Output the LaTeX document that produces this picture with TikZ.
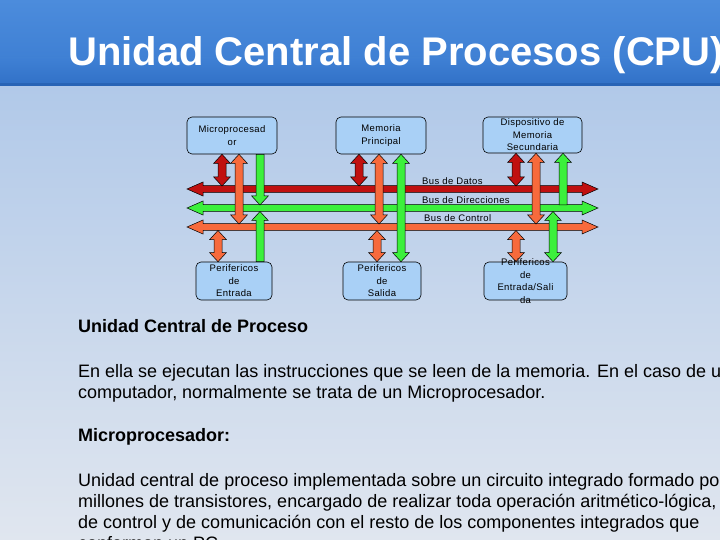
\documentclass[tikz,border=0pt]{standalone}
\usepackage{fontspec}
\setmainfont{Liberation Sans}
\newfontfamily\boxfont[LetterSpace=4]{Liberation Sans}
\usetikzlibrary{calc,positioning}

\definecolor{barhi}{HTML}{4C8CDC}
\definecolor{barmid}{HTML}{3F80D4}
\definecolor{barlo}{HTML}{3272C8}
\definecolor{barline}{HTML}{2864B6}
\definecolor{bgtop}{HTML}{B1C9E9}
\definecolor{bgbot}{HTML}{E0E6EF}
\definecolor{boxblue}{HTML}{A9D0F6}
\definecolor{datred}{HTML}{C01010}
\definecolor{dirgreen}{HTML}{3CF03C}
\definecolor{ctrlorange}{HTML}{F76A3C}

\tikzset{
  bus/.style={/utils/exec={\def\headlen{16pt}\def\headwid{7pt}\def\shaftwid{3.3pt}}},
  link/.style={/utils/exec={\def\headlen{9pt}\def\headwid{8.3pt}\def\shaftwid{4pt}}},
  both/.style={draw=black, line width=0.5pt, fill=#1, line join=miter,
    to path={let \p1=(\tikztostart), \p2=(\tikztotarget),
      \n1={veclen(\x2-\x1,\y2-\y1)}, \n2={(\x2-\x1)/\n1}, \n3={(\y2-\y1)/\n1} in
      (\p1) -- ++({\headlen*(\n2)-\headwid*(\n3)},{\headlen*(\n3)+\headwid*(\n2)})
      -- ++({(\headwid-\shaftwid)*(\n3)},{-(\headwid-\shaftwid)*(\n2)})
      -- ++({(\n1-2*\headlen)*(\n2)},{(\n1-2*\headlen)*(\n3)})
      -- ++({-(\headwid-\shaftwid)*(\n3)},{(\headwid-\shaftwid)*(\n2)})
      -- (\p2)
      -- ++({-\headlen*(\n2)+\headwid*(\n3)},{-\headlen*(\n3)-\headwid*(\n2)})
      -- ++({-(\headwid-\shaftwid)*(\n3)},{(\headwid-\shaftwid)*(\n2)})
      -- ++({-(\n1-2*\headlen)*(\n2)},{-(\n1-2*\headlen)*(\n3)})
      -- ++({(\headwid-\shaftwid)*(\n3)},{-(\headwid-\shaftwid)*(\n2)})
      -- cycle}},
  one/.style={draw=black, line width=0.5pt, fill=#1, line join=miter,
    to path={let \p1=(\tikztostart), \p2=(\tikztotarget),
      \n1={veclen(\x2-\x1,\y2-\y1)}, \n2={(\x2-\x1)/\n1}, \n3={(\y2-\y1)/\n1} in
      ({\x1-\shaftwid*(\n3)},{\y1+\shaftwid*(\n2)})
      -- ++({(\n1-\headlen)*(\n2)},{(\n1-\headlen)*(\n3)})
      -- ++({-(\headwid-\shaftwid)*(\n3)},{(\headwid-\shaftwid)*(\n2)})
      -- (\p2)
      -- ++({-\headlen*(\n2)+\headwid*(\n3)},{-\headlen*(\n3)-\headwid*(\n2)})
      -- ++({-(\headwid-\shaftwid)*(\n3)},{(\headwid-\shaftwid)*(\n2)})
      -- ++({-(\n1-\headlen)*(\n2)},{-(\n1-\headlen)*(\n3)})
      -- cycle}}
}

\begin{document}
\begin{tikzpicture}[x=1pt,y=-1pt,
  pbox/.style={draw=black, line width=0.6pt, rounded corners=5pt, fill=boxblue,
    inner sep=0pt, align=center, font=\boxfont\fontsize{9.5}{12.5}\selectfont},
  buslabel/.style={anchor=west, inner sep=0pt, font=\boxfont\fontsize{9.5}{12}\selectfont},
  txt/.style={anchor=base west, inner sep=0pt, font=\fontsize{18}{21}\selectfont}]
  \useasboundingbox (0,0) rectangle (720,540);
  \clip (0,0) rectangle (720,540);

  \shade[top color=bgtop, bottom color=bgbot] (0,86) rectangle (720,540);
  \shade[top color=barhi, bottom color=barmid] (0,0) rectangle (720,58);
  \shade[top color=barmid, bottom color=barlo] (0,58) rectangle (720,83);
  \fill[barline] (0,83) rectangle (720,86);

  \node[anchor=base west, inner sep=0pt, text=white,
    font=\bfseries\fontsize{40}{48}\selectfont] (title) at (68,66) {Unidad Central de Procesos (CPU)};

  \node[pbox, minimum width=90, minimum height=37] (mp) at (232,135.5) {Microprocesad\\or};
  \node[pbox, minimum width=90, minimum height=37] (mem) at (381,135.5) {Memoria\\Principal};
  \node[pbox, minimum width=99, minimum height=36] (sec) at (532.5,135) {Dispositivo de\\Memoria\\Secundaria};
  \node[pbox, minimum width=76, minimum height=38] (ent) at (234,281) {Perifericos\\de\\Entrada};
  \node[pbox, minimum width=78, minimum height=38] (sal) at (382,281) {Perifericos\\de\\Salida};
  \node[pbox, minimum width=83, minimum height=38] (es) at (525.5,281) {};

  \coordinate (datosW) at (187,189);
  \coordinate (datosE) at (598,189);
  \coordinate (dirW) at (187,208);
  \coordinate (dirE) at (598,208);
  \coordinate (ctrlW) at (187,227);
  \coordinate (ctrlE) at (598,227);
  \coordinate (datosT) at (0,186);
  \coordinate (dirT) at (0,205);
  \coordinate (dirB) at (0,211.5);
  \coordinate (ctrlT) at (0,224);
  \coordinate (ctrlB) at (0,230.5);

  \draw[bus, both=datred] (datosW) to (datosE);
  \draw[bus, both=dirgreen] (dirW) to (dirE);
  \draw[bus, both=ctrlorange] (ctrlW) to (ctrlE);

  \node[buslabel] (lbldatos) at (422,181.5) {Bus de Datos};
  \node[buslabel] (lbldir) at (422,200) {Bus de Direcciones};
  \node[buslabel] (lblctrl) at (424,218) {Bus de Control};

  \coordinate (mpD) at ([xshift=-10pt]mp.south);
  \coordinate (mpC) at ([xshift=7pt]mp.south);
  \coordinate (mpA) at ([xshift=28pt]mp.south);
  \coordinate (memD) at ([xshift=-22pt]mem.south);
  \coordinate (memC) at ([xshift=-2pt]mem.south);
  \coordinate (memA) at ([xshift=20pt]mem.south);
  \coordinate (secD) at ([xshift=-16.5pt]sec.south);
  \coordinate (secC) at ([xshift=3.5pt]sec.south);
  \coordinate (secA) at ([xshift=30.5pt]sec.south);
  \coordinate (entC) at ([xshift=-16pt]ent.north);
  \coordinate (entA) at ([xshift=26pt]ent.north);
  \coordinate (salC) at ([xshift=-5pt]sal.north);
  \coordinate (esC) at ([xshift=-9.5pt]es.north);
  \coordinate (esA) at ([xshift=27.5pt]es.north);

  \draw[link, both=datred] (mpD) to (mpD |- datosT);
  \draw[link, both=ctrlorange] (mpC) to (mpC |- ctrlT);
  \draw[link, one=dirgreen] (mpA) to (mpA |- dirT);
  \draw[link, both=datred] (memD) to (memD |- datosT);
  \draw[link, both=ctrlorange] (memC) to (memC |- ctrlT);
  \draw[link, both=dirgreen] (memA) to (memA |- sal.north);
  \draw[link, both=datred] (secD) to (secD |- datosT);
  \draw[link, both=ctrlorange] (secC) to (secC |- ctrlT);
  \draw[link, one=dirgreen] (secA |- dirT) to (secA);
  \draw[link, both=ctrlorange] (entC |- ctrlB) to (entC);
  \draw[link, one=dirgreen] (entA) to (entA |- dirB);
  \draw[link, both=ctrlorange] (salC |- ctrlB) to (salC);
  \draw[link, both=ctrlorange] (esC |- ctrlB) to (esC);
  \draw[link, both=dirgreen] (esA |- dirB) to (esA);

  \node[pbox, draw=none, fill=none] (estext) at (es) {Perifericos\\de\\Entrada/Sali\\da};

  \node[txt] (head1) at (78,332) {\bfseries Unidad Central de Proceso};
  \node[txt] (par1a) at (78,377) {En ella se ejecutan las instrucciones que se leen de la memoria. En el caso de un};
  \node[txt] (par1b) at (78,398) {computador, normalmente se trata de un Microprocesador.};
  \node[txt] (head2) at (78,441) {\bfseries Microprocesador:};
  \node[txt] (par2a) at (78,486) {Unidad central de proceso implementada sobre un circuito integrado formado por};
  \node[txt] (par2b) at (78,507) {millones de transistores, encargado de realizar toda operación aritmético-lógica,};
  \node[txt] (par2c) at (78,528) {de control y de comunicación con el resto de los componentes integrados que};
  \node[txt] (par2d) at (78,549) {conforman un PC.};
\end{tikzpicture}
\end{document}
